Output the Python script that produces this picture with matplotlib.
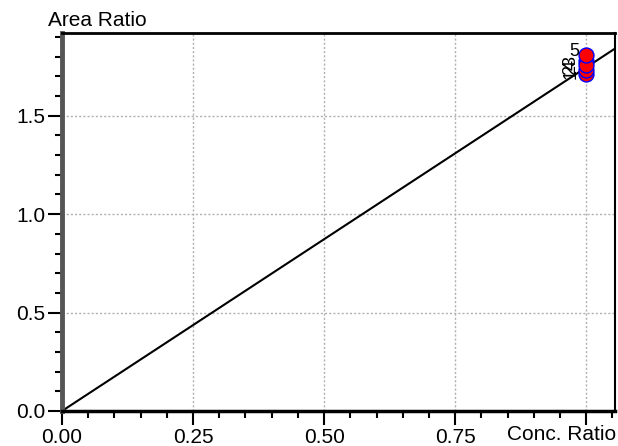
import matplotlib
matplotlib.use("Agg")
import matplotlib.pyplot as plt
from matplotlib.ticker import MultipleLocator
import numpy as np

plt.rcParams['font.family'] = ['Liberation Sans', 'DejaVu Sans']

# data
point_labels = ["1", "2", "3", "4", "5"]
point_x = [1.0, 1.0, 1.0, 1.0, 1.0]
point_y = [1.71, 1.73, 1.78, 1.76, 1.81]
slope = 1.745
intercept = 0.0
x_range = [0.0, 1.055]
y_range = [0.0, 1.92]
x_ticks = [0.0, 0.25, 0.5, 0.75]
x_ticklabels = ["0.00", "0.25", "0.50", "0.75"]
y_ticks = [0.0, 0.5, 1.0, 1.5]
y_ticklabels = ["0.0", "0.5", "1.0", "1.5"]

W, H = 618, 446
fig = plt.figure(figsize=(W / 100, H / 100), dpi=100)
left, right, top, bottom = 62, 615, 33, 411
ax = fig.add_axes([left / W, (H - bottom) / H, (right - left) / W, (bottom - top) / H])

ax.set_xlim(*x_range)
ax.set_ylim(*y_range)

# grid
for xv in [0.25, 0.5, 0.75, 1.0]:
    ax.axvline(xv, color='#b0b0b0', lw=1, ls=(0, (1.5, 1.5)), zorder=0)
for yv in [0.0, 0.5, 1.0, 1.5]:
    ax.axhline(yv, color='#b0b0b0', lw=1, ls=(0, (1.5, 1.5)), zorder=0)

# calibration line
xs = np.array(x_range)
ax.plot(xs, slope * xs + intercept, color='black', lw=1.5, zorder=2)

# points
ax.scatter(point_x, point_y, s=115, c='red', edgecolors='blue', linewidths=1, zorder=3, clip_on=False)
for lbl, px, py in zip(point_labels, point_x, point_y):
    rot = 0 if lbl == "5" else 90
    ax.text(px - 0.013, py + (0.015 if lbl == "5" else 0), lbl, fontsize=13,
            ha='right', va='center', rotation=rot, zorder=4)

# ticks
ax.set_xticks(x_ticks + [1.0])
ax.set_xticklabels(x_ticklabels + [""])
ax.set_yticks(y_ticks)
ax.set_yticklabels(y_ticklabels)
ax.xaxis.set_minor_locator(MultipleLocator(0.05))
ax.yaxis.set_minor_locator(MultipleLocator(0.1))
ax.tick_params(axis='both', which='major', direction='out', length=10, width=1.5, labelsize=15, pad=2, colors='black')
ax.tick_params(axis='both', which='minor', direction='out', length=5, width=1.5)

# spines
ax.spines['left'].set_linewidth(3.5)
ax.spines['left'].set_color('#555555')
ax.spines['bottom'].set_linewidth(2.5)
ax.spines['bottom'].set_color('black')
ax.spines['top'].set_linewidth(2)
ax.spines['right'].set_linewidth(1.5)

fig.text(48 / W, 1 - 20 / H, "Area Ratio", fontsize=15, ha='left', va='center')
fig.text(1 - 2 / W, 1 - 434 / H, "Conc. Ratio", fontsize=15, ha='right', va='center')

fig.savefig("out.png", dpi=100)
